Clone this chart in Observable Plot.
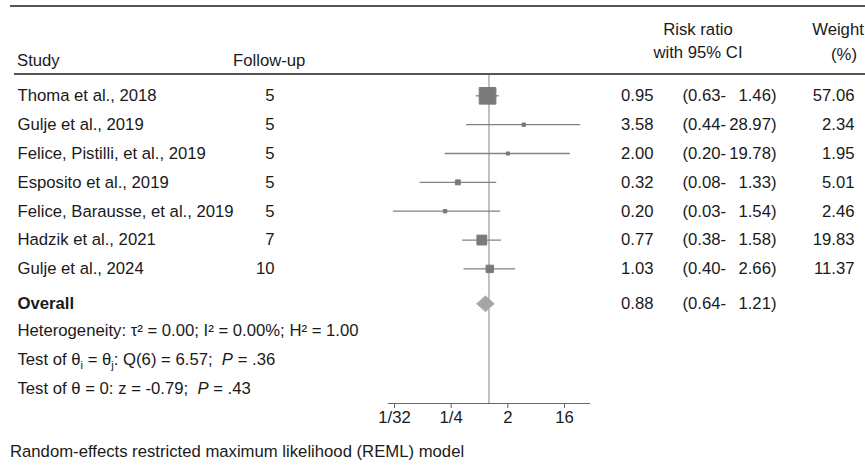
<!DOCTYPE html>
<html>
<head>
<meta charset="utf-8">
<script src="https://cdn.jsdelivr.net/npm/d3@7"></script>
<script src="https://cdn.jsdelivr.net/npm/@observablehq/plot@0.6"></script>
<style>
  html, body { margin: 0; padding: 0; background: #fff; }
  #chart { position: relative; width: 865px; height: 474px; font-family: "Liberation Sans", Arial, sans-serif; font-size: 16.7px; color: #1a1a1a; }
  .hdr { position: absolute; line-height: 20px; white-space: nowrap; }
  .rule { position: absolute; height: 2px; background: #555; }
  #plot { position: absolute; left: 0; top: 75px; }
  #plot text { white-space: pre; }
  #caption { position: absolute; left: 10px; top: 442px; line-height: 20px; white-space: nowrap; }
</style>
</head>
<body>
<div id="chart">
  <div class="rule" style="left:10px; top:5px; width:855px;"></div>
  <div class="hdr" id="hStudy" style="left:17px; top:51px;"></div>
  <div class="hdr" id="hFollow" style="left:233px; top:51px;"></div>
  <div class="hdr" id="hRR1" style="left:698px; top:20px; transform:translateX(-50%);"></div>
  <div class="hdr" id="hRR2" style="left:698px; top:43px; transform:translateX(-50%);"></div>
  <div class="hdr" id="hW1" style="left:838px; top:20px; transform:translateX(-50%);"></div>
  <div class="hdr" id="hW2" style="left:844px; top:45px; transform:translateX(-50%);"></div>
  <div class="rule" style="left:14px; top:73px; width:851px;"></div>
  <div id="plot"></div>
  <div id="caption"></div>
</div>
<script>
// ---- data ----
const studies = ["Thoma et al., 2018", "Gulje et al., 2019", "Felice, Pistilli, et al., 2019", "Esposito et al., 2019", "Felice, Barausse, et al., 2019", "Hadzik et al., 2021", "Gulje et al., 2024"];
const followUp = [5, 5, 5, 5, 5, 7, 10];
const riskRatio = [0.95, 3.58, 2.00, 0.32, 0.20, 0.77, 1.03];
const ciLower = [0.63, 0.44, 0.20, 0.08, 0.03, 0.38, 0.40];
const ciUpper = [1.46, 28.97, 19.78, 1.33, 1.54, 1.58, 2.66];
const weights = [57.06, 2.34, 1.95, 5.01, 2.46, 19.83, 11.37];
const overallLabel = "Overall";
const overallRR = 0.88;
const overallLower = 0.64;
const overallUpper = 1.21;
const statLines = [
  "Heterogeneity: τ² = 0.00; I² = 0.00%; H² = 1.00",
  "Test of θᵢ = θⱼ: Q(6) = 6.57;  P = .36",
  "Test of θ = 0: z = -0.79;  P = .43"
];
const xTicks = [1/32, 1/4, 2, 16];
const xTickLabels = ["1/32", "1/4", "2", "16"];
const headerStudy = "Study";
const headerFollow = "Follow-up";
const headerRR = ["Risk ratio", "with 95% CI"];
const headerWeight = ["Weight", "(%)"];
const captionText = "Random-effects restricted maximum likelihood (REML) model";

// ---- header / caption text ----
document.getElementById("hStudy").textContent = headerStudy;
document.getElementById("hFollow").textContent = headerFollow;
document.getElementById("hRR1").textContent = headerRR[0];
document.getElementById("hRR2").textContent = headerRR[1];
document.getElementById("hW1").textContent = headerWeight[0];
document.getElementById("hW2").textContent = headerWeight[1];
document.getElementById("caption").textContent = captionText;

// ---- tables built from arrays ----
const rows = studies.map((s, i) => ({
  i, study: s, fu: String(followUp[i]), rr: riskRatio[i], lo: ciLower[i], hi: ciUpper[i], w: weights[i],
  rrText: riskRatio[i].toFixed(2), loText: "(" + ciLower[i].toFixed(2) + "-", hiText: ciUpper[i].toFixed(2) + ")",
  wText: weights[i].toFixed(2)
}));
const iOverall = studies.length;
const overall = [{
  i: iOverall, study: overallLabel, rr: overallRR, lo: overallLower, hi: overallUpper,
  rrText: overallRR.toFixed(2), loText: "(" + overallLower.toFixed(2) + "-", hiText: overallUpper.toFixed(2) + ")"
}];
const stats = statLines.map((t, k) => ({ i: iOverall + 1 + k, text: t }));
const halfH = 0.27; // diamond half-height in row units
const diamond = [
  { x: overallLower, y: iOverall },
  { x: overallRR, y: iOverall - halfH },
  { x: overallUpper, y: iOverall },
  { x: overallRR, y: iOverall + halfH },
  { x: overallLower, y: iOverall }
];

const xDomain = [Math.pow(2, -5.318), Math.pow(2, 5.376)];
const yDomain = [-0.704, 10.666];
const FS = 16.7;
const ink = "#1a1a1a";
const overallDy = 6;
const statDy = 4;
const txt = (data, channel, anchor, dx, textAnchor, extra = {}) =>
  Plot.text(data, { y: "i", text: channel, frameAnchor: anchor, dx, textAnchor, fontSize: FS, fill: ink, ...extra });

const chart = Plot.plot({
  width: 865,
  height: 359,
  marginLeft: 388,
  marginRight: 275,
  marginTop: 0,
  marginBottom: 31,
  style: { fontFamily: "'Liberation Sans', Arial, sans-serif", fontSize: FS + "px", color: ink, background: "transparent" },
  x: { type: "log", base: 2, domain: xDomain, axis: null },
  y: { domain: yDomain, range: [0, 328], axis: null },
  r: { type: "sqrt", domain: [0, d3.max(weights)], range: [0, 9.4] },
  marks: [
    Plot.ruleX([1], { stroke: "#999", strokeWidth: 1.2 }),
    Plot.ruleY(rows, { y: "i", x1: "lo", x2: "hi", stroke: "#828282", strokeWidth: 1.3 }),
    Plot.dot(rows, { x: "rr", y: "i", r: "w", symbol: "square", fill: "#7a7a7a", stroke: "#7a7a7a", strokeWidth: 1 }),
    Plot.line(diamond, { x: "x", y: "y", dy: overallDy, fill: "#a6a6a6", stroke: "#a6a6a6", strokeWidth: 1 }),
    Plot.ruleY([yDomain[1]], { stroke: "#666", strokeWidth: 1.2 }),
    Plot.axisX({ ticks: xTicks, tickFormat: d => xTickLabels[xTicks.indexOf(d)], tickSize: 5, tickPadding: 3, stroke: "#666", fill: ink, fontSize: FS }),
    txt(rows, "study", "left", -371, "start"),
    txt(rows, "fu", "left", -114, "end"),
    txt(rows, "rrText", "right", 63, "end"),
    txt(rows, "loText", "right", 92, "start"),
    txt(rows, "hiText", "right", 186, "end"),
    txt(rows, "wText", "right", 264, "end"),
    txt(overall, "study", "left", -371, "start", { fontWeight: "bold", dy: overallDy }),
    txt(overall, "rrText", "right", 63, "end", { dy: overallDy }),
    txt(overall, "loText", "right", 92, "start", { dy: overallDy }),
    txt(overall, "hiText", "right", 186, "end", { dy: overallDy }),
    txt(stats, "text", "left", -371, "start", { className: "statline", dy: statDy })
  ]
});
document.getElementById("plot").appendChild(chart);

// rich text for stat lines: italic P, subscripts i/j
const esc = s => s.replace(/&/g, "&amp;").replace(/</g, "&lt;");
d3.select(chart).selectAll("g.statline text").each(function () {
  const tokens = this.textContent.split(/(ᵢ|ⱼ|P(?= =))/).filter(t => t.length > 0);
  let reset = 0, html = "";
  for (const t of tokens) {
    if (t === "ᵢ" || t === "ⱼ") {
      html += `<tspan font-size="11" dy="${4 + reset}">${t === "ᵢ" ? "i" : "j"}</tspan>`;
      reset = -4;
    } else if (t === "P") {
      html += `<tspan font-style="italic" dy="${reset}">P</tspan>`;
      reset = 0;
    } else {
      html += `<tspan dy="${reset}">${esc(t)}</tspan>`;
      reset = 0;
    }
  }
  this.innerHTML = html;
});
</script>
</body>
</html>
